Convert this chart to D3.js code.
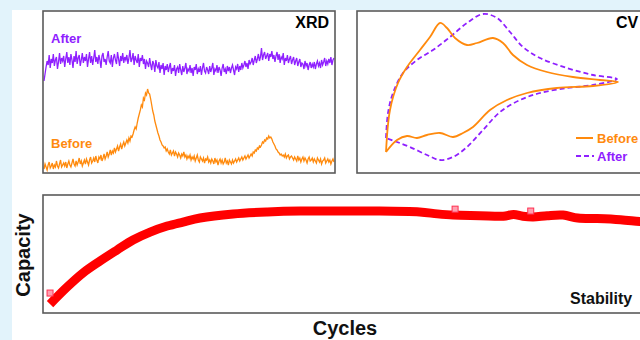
<!DOCTYPE html>
<html><head><meta charset="utf-8">
<script src="https://cdn.jsdelivr.net/npm/d3@7"></script>
<style>body{margin:0;background:#fff}svg{display:block}text{font-family:"Liberation Sans",Arial,sans-serif;font-weight:bold}</style>
</head><body><svg id="c" width="640" height="340"></svg>
<script>
// ---------- data ----------
const xrdStart = 10, xrdStep = 0.25; // 2-theta grid
const xrdBefore = [
 4,9,6,3,8,11,5,7,10,4,8,6,12,7,5,9,13,6,8,10,
 7,11,5,9,12,8,6,10,14,9,7,12,8,11,15,9,12,7,10,13,
 9,14,11,8,13,16,10,12,15,11,17,13,10,16,14,18,12,15,19,14,
 17,21,16,19,23,18,22,20,25,21,24,27,22,26,29,24,28,31,27,30,
 33,30,35,32,37,36,39,43,46,44,50,55,59,63,68,66,75,73,80,78,
 84,80,79,74,68,62,58,52,48,44,40,37,33,31,28,27,25,26,22,24,
 21,19,23,18,20,22,17,21,19,16,20,18,15,19,17,21,16,18,14,17,
 15,18,13,16,14,17,12,15,18,13,11,16,14,12,15,10,14,13,16,11,
 13,10,14,12,9,15,11,13,8,12,14,10,13,9,11,15,10,12,8,13,
 11,9,13,10,12,14,11,13,15,12,14,16,13,15,17,14,16,18,15,17,
 19,17,21,20,23,22,25,24,27,26,28,31,30,33,32,35,34,37,35,36,
 34,31,29,27,24,23,21,20,18,19,17,18,16,19,15,17,18,14,16,17,
 15,13,16,14,12,17,13,15,11,14,16,12,15,13,10,14,16,12,13,15,
 11,14,12,10,15,13,11,14,9,12,13,15,10,12,14,11,13,9,12,14,11];
const xrdAfter = [
 92,99,106,112,108,118,105,114,110,119,107,113,116,104,111,120,109,115,112,117,
 106,114,121,110,116,108,119,113,105,117,111,122,109,115,118,107,113,120,110,116,
 112,119,106,114,121,110,117,108,115,123,111,116,109,118,113,105,117,120,111,114,
 108,116,122,112,110,118,106,115,119,113,109,121,114,107,117,112,120,110,116,113,
 118,109,115,123,111,114,120,108,117,113,110,119,106,115,112,118,109,114,104,112,
 110,106,115,108,103,112,109,101,113,107,105,111,100,108,104,110,98,107,103,109,
 101,106,110,99,105,102,108,97,104,106,100,109,103,98,107,101,105,110,99,104,
 102,108,100,105,97,106,103,109,99,104,101,107,98,105,110,102,100,106,103,99,
 107,101,105,110,98,104,102,108,100,106,103,97,105,109,101,104,99,107,102,106,
 100,105,108,103,98,106,104,109,101,107,103,110,105,108,112,106,110,104,113,109,
 111,115,108,113,117,110,114,119,112,116,125,113,118,121,114,117,120,112,119,116,
 122,114,118,111,117,121,113,119,110,116,114,120,108,115,112,118,110,114,117,109,
 113,116,108,112,115,107,111,114,106,110,109,104,112,107,110,103,108,111,105,109,
 106,111,104,109,112,107,110,105,113,108,111,115,107,112,109,114,110,116,108,113,115];

const cvBeforeE = [29,33,41,50,63,73,83,90,98,110,120,136,146,156,170,190,216,243,261,236,200,170,150,133,116,106,96,83,70,60,50,40,29];
const cvBeforeI = [21,63,90,106,123,136,150,145,135,128,130,135,130,118,108,101,96,93,91,87,85,80,73,63,46,40,36,40,38,35,37,33,21];
const cvAfterE = [29,31,36,46,60,76,93,110,126,140,153,166,183,210,236,260,236,210,183,163,143,126,110,96,83,70,53,40,29];
const cvAfterI = [35,60,80,100,113,123,136,150,159,155,141,126,115,105,98,94,88,85,80,73,61,43,26,16,13,18,26,31,35];

const stabCycles   = [5,33,59,87,115,141,169,197,223,251,305,361,415,448,530,611,640,666,710,748,765,780,797,820,846,870,902,940,972,1000];
const stabCapacity = [7.6,22,33.9,44,53.4,61.9,68.6,73.7,77.1,80.5,83.9,85.6,86.4,86.4,86.4,85.6,84,83,82.5,82,83.5,82,81.4,82.5,83,80.5,80,79,77.5,76.5];
const stabOutCycles = [5,669,793];
const stabOutCapacity = [16.9,88,86.4];

const colBefore = "#ff8a0d", colAfter = "#8f20ff", colStab = "#ff0000";

// ---------- drawing ----------
const svg = d3.select("#c");
svg.append("rect").attr("width",640).attr("height",340).attr("fill","#e2f3fb");
svg.append("rect").attr("x",12).attr("y",10).attr("width",628).attr("height",330).attr("fill","#fff");

const defs = svg.append("defs");
function panel(id,x0,y0,x1,y1){
  defs.append("clipPath").attr("id",id).append("rect").attr("x",x0).attr("y",y0).attr("width",x1-x0).attr("height",y1-y0);
  return {x0,y0,x1,y1};
}
const pX = panel("cx",43,11,335,173);
const pC = panel("cc",357,11,655,173);
const pS = panel("cs",43,195,655,313);

// XRD
const xX = d3.scaleLinear().domain([10,80]).range([44,334]);
const yX = d3.scaleLinear().domain([0,160]).range([173,13]);
const gX = svg.append("g").attr("clip-path","url(#cx)");
const lineX = d3.line().x((d,i)=>xX(xrdStart+i*xrdStep)).y(d=>yX(d));
gX.append("path").datum(xrdAfter).attr("d",lineX).attr("fill","none").attr("stroke",colAfter).attr("stroke-width",1.3);
gX.append("path").datum(xrdBefore).attr("d",lineX).attr("fill","none").attr("stroke",colBefore).attr("stroke-width",1.3);

// CV
const xC = d3.scaleLinear().domain([0,298]).range([357,655]);
const yC = d3.scaleLinear().domain([0,162]).range([173,11]);
const gC = svg.append("g").attr("clip-path","url(#cc)");
const lineC = d3.line().x(d=>xC(d[0])).y(d=>yC(d[1])).curve(d3.curveCatmullRom.alpha(0.5));
gC.append("path").datum(cvAfterE.map((e,i)=>[e,cvAfterI[i]])).attr("d",lineC)
  .attr("fill","none").attr("stroke",colAfter).attr("stroke-width",1.8).attr("stroke-dasharray","5,3");
gC.append("path").datum(cvBeforeE.map((e,i)=>[e,cvBeforeI[i]])).attr("d",lineC)
  .attr("fill","none").attr("stroke",colBefore).attr("stroke-width",1.8);

// Stability
const xS = d3.scaleLinear().domain([0,1000]).range([47,657]);
const yS = d3.scaleLinear().domain([0,100]).range([313,195]);
const gS = svg.append("g").attr("clip-path","url(#cs)");
gS.append("path").datum(stabCycles.map((c,i)=>[c,stabCapacity[i]]))
  .attr("d",d3.line().x(d=>xS(d[0])).y(d=>yS(d[1])).curve(d3.curveCatmullRom.alpha(0.5)))
  .attr("fill","none").attr("stroke",colStab).attr("stroke-width",9).attr("stroke-linejoin","round");
gS.selectAll("rect.o").data(stabOutCycles).join("rect").attr("class","o")
  .attr("x",(c)=>xS(c)-3).attr("y",(c,i)=>yS(stabOutCapacity[i])-3).attr("width",6).attr("height",6)
  .attr("fill","#ff9fb0").attr("stroke","#ff3050").attr("stroke-width",1);

// frames
[pX,pC,pS].forEach(p=>{
  svg.append("rect").attr("x",p.x0).attr("y",p.y0).attr("width",p.x1-p.x0).attr("height",p.y1-p.y0)
    .attr("fill","none").attr("stroke","#5a5a5a").attr("stroke-width",1.6);
});

// texts
svg.append("text").attr("x",329).attr("y",28).attr("text-anchor","end").attr("font-size",16).attr("fill","#000").text("XRD");
svg.append("text").attr("x",616).attr("y",28).attr("font-size",16).attr("fill","#000").text("CV");
svg.append("text").attr("x",570).attr("y",304).attr("font-size",16).attr("fill","#111").text("Stability");
svg.append("text").attr("x",51).attr("y",43).attr("font-size",13).attr("fill",colAfter).text("After");
svg.append("text").attr("x",51).attr("y",148).attr("font-size",13).attr("fill",colBefore).text("Before");

// CV legend
svg.append("line").attr("x1",576).attr("x2",593).attr("y1",138).attr("y2",138).attr("stroke",colBefore).attr("stroke-width",2);
svg.append("text").attr("x",597).attr("y",143).attr("font-size",13).attr("fill",colBefore).text("Before");
svg.append("line").attr("x1",576).attr("x2",594).attr("y1",156).attr("y2",156).attr("stroke",colAfter).attr("stroke-width",2).attr("stroke-dasharray","5,3");
svg.append("text").attr("x",597).attr("y",161).attr("font-size",13).attr("fill",colAfter).text("After");

// axis titles
svg.append("text").attr("x",345).attr("y",335).attr("text-anchor","middle").attr("font-size",20).attr("fill","#111").text("Cycles");
svg.append("text").attr("transform","translate(30,255) rotate(-90)").attr("text-anchor","middle").attr("font-size",20).attr("fill","#111").text("Capacity");
</script></body></html>
